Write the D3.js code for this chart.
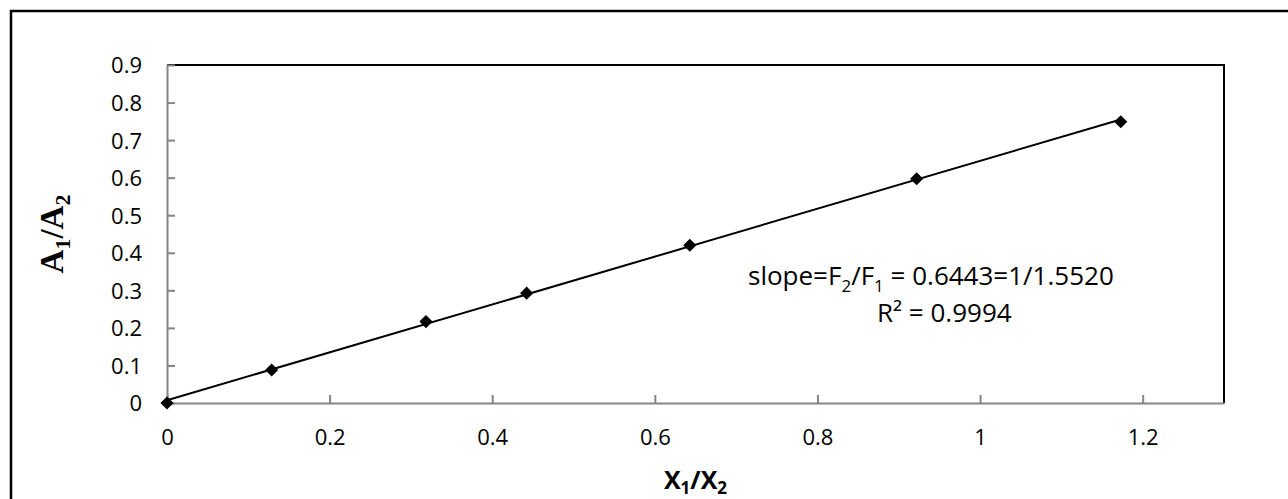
<!DOCTYPE html>
<html><head><meta charset="utf-8">
<script src="https://cdn.jsdelivr.net/npm/d3@7/dist/d3.min.js"></script>
<style>
html,body{margin:0;padding:0;background:#fff;}
svg{display:block;}
</style></head>
<body>
<svg id="chart" width="1288" height="499"></svg>
<script>
// ---- data ----
const xValues = [0, 0.1287, 0.3185, 0.4423, 0.643, 0.922, 1.173];
const yValues = [0, 0.088, 0.2168, 0.2925, 0.420, 0.597, 0.749];
const xTicks = [0, 0.2, 0.4, 0.6, 0.8, 1, 1.2];
const yTicks = [0, 0.1, 0.2, 0.3, 0.4, 0.5, 0.6, 0.7, 0.8, 0.9];
const xDomain = [0, 1.3];
const yDomain = [0, 0.9];
const annotationLines = ["slope=F|2|/F|1| = 0.6443=1/1.5520", "R² = 0.9994"];

(function () {
const svg = d3.select("#chart");
const W = 1288, H = 499;
const pLeft = 167, pRight = 1224, pTop = 65, pBottom = 403;
const font = "'Open Sans', sans-serif";

// outer frame
svg.append("rect").attr("x", 11).attr("y", 11).attr("width", W + 20).attr("height", H + 20)
  .attr("fill", "#fff").attr("stroke", "#000").attr("stroke-width", 2.5);

const x = d3.scaleLinear().domain(xDomain).range([pLeft, pRight]);
const y = d3.scaleLinear().domain(yDomain).range([pBottom, pTop]);

// plot area top/right border
svg.append("path")
  .attr("d", `M${pLeft},${pTop}H${pRight}V${pBottom}`)
  .attr("fill", "none").attr("stroke", "#000").attr("stroke-width", 2);

const gray = "#868686";
const fmt = d => String(+d.toFixed(1));
// y axis
const yAxis = d3.axisLeft(y).tickValues(yTicks).tickSizeInner(-8).tickSizeOuter(0).tickFormat(fmt);
const gy = svg.append("g").attr("transform", `translate(${pLeft},0)`).call(yAxis);
gy.select(".domain").attr("stroke", gray).attr("stroke-width", 2);
gy.selectAll(".tick line").attr("stroke", gray).attr("stroke-width", 2);
gy.selectAll(".tick text").attr("x", -25).attr("font-family", font).attr("font-size", 22)
  .attr("fill", "#000").attr("dy", "0.36em");

// x axis
const xAxis = d3.axisBottom(x).tickValues(xTicks).tickSizeInner(-8).tickSizeOuter(0).tickFormat(fmt);
const gx = svg.append("g").attr("transform", `translate(0,${pBottom})`).call(xAxis);
gx.select(".domain").attr("stroke", gray).attr("stroke-width", 2);
gx.selectAll(".tick line").attr("stroke", gray).attr("stroke-width", 2);
gx.selectAll(".tick text").attr("y", 42).attr("dy", 0).attr("font-family", font).attr("font-size", 22)
  .attr("fill", "#000");

// trend line (least squares)
const n = xValues.length;
const mx = d3.mean(xValues), my = d3.mean(yValues);
let sxy = 0, sxx = 0;
for (let i = 0; i < n; i++) { sxy += (xValues[i]-mx)*(yValues[i]-my); sxx += (xValues[i]-mx)**2; }
const slope = sxy / sxx, intercept = my - slope * mx;
const x0 = d3.min(xValues), x1 = d3.max(xValues);
svg.append("line")
  .attr("x1", x(x0)).attr("y1", y(slope*x0 + intercept))
  .attr("x2", x(x1)).attr("y2", y(slope*x1 + intercept))
  .attr("stroke", "#000").attr("stroke-width", 2);

// markers
const pts = xValues.map((v, i) => [v, yValues[i]]);
svg.append("g").selectAll("path").data(pts).join("path")
  .attr("d", d3.symbol(d3.symbolDiamond2, 110))
  .attr("transform", d => `translate(${x(d[0])},${y(d[1])})`)
  .attr("fill", "#000");

// annotation
const ann1 = svg.append("text").attr("x", 748).attr("y", 285)
  .attr("font-family", font).attr("font-size", 26).attr("fill", "#000");
annotationLines[0].split("|").forEach((p, i) => {
  const t = ann1.append("tspan").text(p);
  if (i % 2 === 1) t.attr("font-size", 17).attr("dy", 7);
  else if (i > 0) t.attr("dy", -7);
});
svg.append("text").attr("x", 877).attr("y", 322)
  .attr("font-family", font).attr("font-size", 26).attr("fill", "#000")
  .text(annotationLines[1]);

// x axis title
const xt = svg.append("text").attr("x", (pLeft + pRight) / 2).attr("y", 489)
  .attr("text-anchor", "middle").attr("font-family", font).attr("font-weight", "bold")
  .attr("font-size", 25).attr("fill", "#000");
xt.append("tspan").text("X");
xt.append("tspan").text("1").attr("font-size", 17).attr("dy", 5);
xt.append("tspan").text("/X").attr("dy", -5);
xt.append("tspan").text("2").attr("font-size", 17).attr("dy", 5);

// y axis title
const yt = svg.append("text")
  .attr("transform", `translate(63,${(pTop + pBottom) / 2}) rotate(-90)`)
  .attr("text-anchor", "middle").attr("font-family", "'Liberation Serif', 'Times New Roman', serif")
  .attr("font-weight", "bold").attr("font-size", 33).attr("fill", "#000");
yt.append("tspan").text("A");
yt.append("tspan").text("1").attr("font-size", 22).attr("dy", 7);
yt.append("tspan").text("/A").attr("dy", -7);
yt.append("tspan").text("2").attr("font-size", 22).attr("dy", 7);
})();
</script>
</body></html>
